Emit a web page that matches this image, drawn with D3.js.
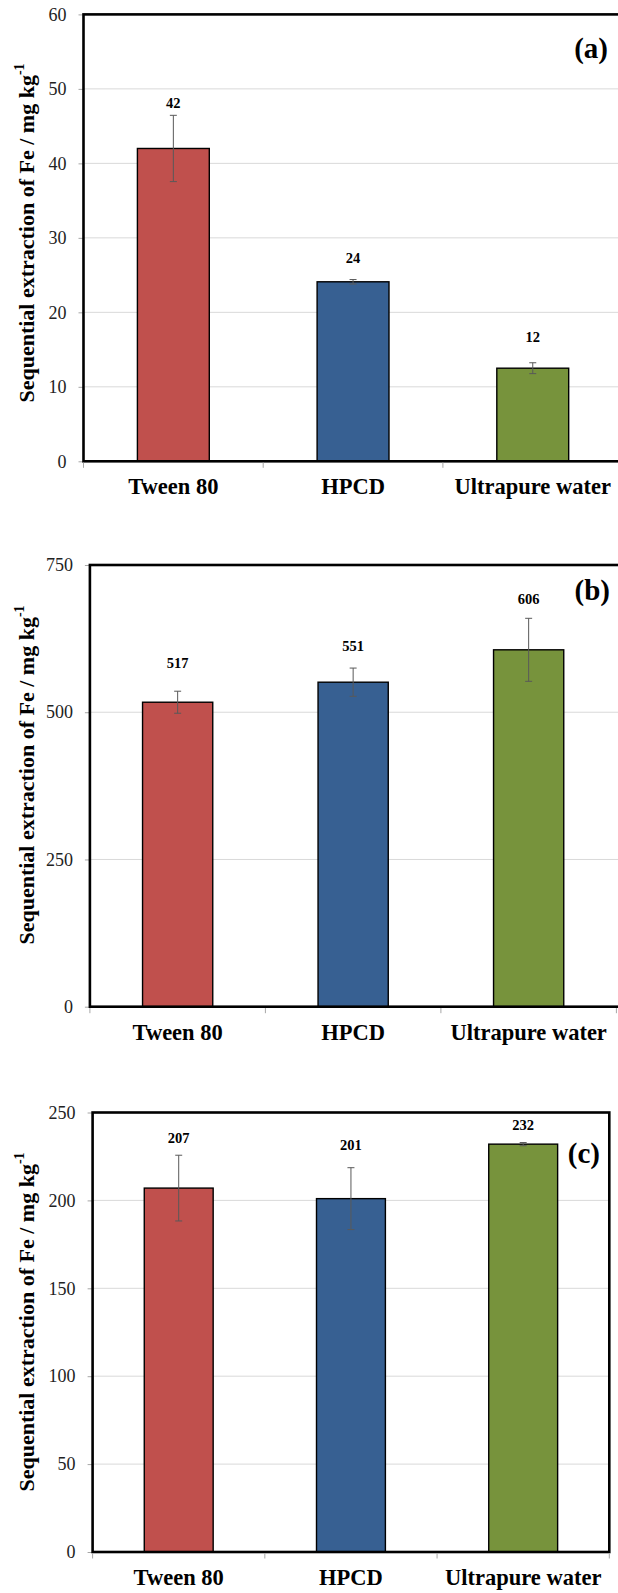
<!DOCTYPE html>
<html>
<head>
<meta charset="utf-8">
<script src="https://cdn.jsdelivr.net/npm/d3@7"></script>
<style>
  html, body { margin: 0; padding: 0; background: #fff; }
  svg { display: block; }
</style>
</head>
<body>
<svg id="chart" width="618" height="1593"></svg>
<script>
// ---------- data ----------
const categories = ["Tween 80", "HPCD", "Ultrapure water"];

const valuesA = [42, 24.1, 12.5];
const errorsA = [4.45, 0.3, 0.73];
const labelsA = ["42", "24", "12"];
const labelLevelsA = [48.1, 27.3, 16.65];
const ticksA = [0, 10, 20, 30, 40, 50, 60];

const valuesB = [517, 551, 606];
const errorsB = [18.7, 24, 53.5];
const labelsB = ["517", "551", "606"];
const labelLevelsB = [583, 612.5, 692.3];
const ticksB = [0, 250, 500, 750];

const valuesC = [207, 201, 232];
const errorsC = [18.7, 17.6, 0.9];
const labelsC = ["207", "201", "232"];
const labelLevelsC = [235.3, 231.5, 242.9];
const ticksC = [0, 50, 100, 150, 200, 250];

const panelTags = ["(a)", "(b)", "(c)"];
const yTitle = "Sequential extraction of Fe / mg kg";
const yTitleSup = "-1";

// ---------- styles ----------
const barColors = ["#C0504D", "#376092", "#77933C"];
const FONT = "Liberation Serif";

// ---------- layout ----------
const layouts = [
  { left: 83.5, right: 622.6, frameRight: 622.6, top: 14.4, bottom: 461.3, titleY: 233, tagX: 608, tagY: 48 },
  { left: 89.9, right: 616.4, frameRight: 620, top: 565, bottom: 1006.7, titleY: 775, tagX: 610, tagY: 590 },
  { left: 92.6, right: 609.3, frameRight: 609.3, top: 1112.5, bottom: 1552, titleY: 1322, tagX: 600, tagY: 1153 }
];

const panels = [
  { values: valuesA, errors: errorsA, labels: labelsA, levels: labelLevelsA, ticks: ticksA },
  { values: valuesB, errors: errorsB, labels: labelsB, levels: labelLevelsB, ticks: ticksB },
  { values: valuesC, errors: errorsC, labels: labelsC, levels: labelLevelsC, ticks: ticksC }
];

const svg = d3.select("#chart");

panels.forEach((p, i) => {
  const L = layouts[i];
  const g = svg.append("g");
  const ymax = d3.max(p.ticks);

  const x = d3.scaleBand()
    .domain(categories)
    .range([L.left, L.right])
    .paddingInner(0.6)
    .paddingOuter(0.3);
  const step = x.step();

  const y = d3.scaleLinear().domain([0, ymax]).range([L.bottom, L.top]);

  // gridlines
  g.append("g").selectAll("line")
    .data(p.ticks.filter(t => t > 0 && t < ymax))
    .join("line")
    .attr("x1", L.left).attr("x2", L.frameRight)
    .attr("y1", d => y(d)).attr("y2", d => y(d))
    .attr("stroke", "#d9d9d9").attr("stroke-width", 1);

  // y axis (ticks + labels) via d3.axisLeft
  const yAxis = d3.axisLeft(y)
    .tickValues(p.ticks)
    .tickSize(5)
    .tickPadding(12)
    .tickFormat(d3.format("d"));
  const ya = g.append("g")
    .attr("transform", `translate(${L.left},0)`)
    .call(yAxis);
  ya.select(".domain").remove();
  ya.selectAll(".tick line").attr("stroke", "#a6a6a6");
  ya.selectAll(".tick text")
    .style("font-family", FONT)
    .style("font-size", "18px")
    .attr("fill", "#222");

  // bars
  g.append("g").selectAll("rect")
    .data(categories)
    .join("rect")
    .attr("x", d => x(d))
    .attr("width", x.bandwidth())
    .attr("y", (d, j) => y(p.values[j]))
    .attr("height", (d, j) => y(0) - y(p.values[j]))
    .attr("fill", (d, j) => barColors[j])
    .attr("stroke", "#000")
    .attr("stroke-width", 1.4);

  // error bars
  const eg = g.append("g").attr("stroke", "#595959").attr("stroke-width", 1);
  categories.forEach((c, j) => {
    const cx = x(c) + x.bandwidth() / 2;
    const y1 = y(p.values[j] + p.errors[j]);
    const y2 = y(p.values[j] - p.errors[j]);
    eg.append("line").attr("x1", cx).attr("x2", cx).attr("y1", y1).attr("y2", y2);
    eg.append("line").attr("x1", cx - 3.5).attr("x2", cx + 3.5).attr("y1", y1).attr("y2", y1);
    eg.append("line").attr("x1", cx - 3.5).attr("x2", cx + 3.5).attr("y1", y2).attr("y2", y2);
  });

  // value labels
  g.append("g").selectAll("text")
    .data(categories)
    .join("text")
    .attr("x", d => x(d) + x.bandwidth() / 2)
    .attr("y", (d, j) => y(p.levels[j]))
    .attr("dy", "0.35em")
    .attr("text-anchor", "middle")
    .style("font-family", FONT)
    .style("font-size", "14.5px")
    .style("font-weight", "bold")
    .attr("fill", "#000")
    .text((d, j) => p.labels[j]);

  // frame
  g.append("rect")
    .attr("x", L.left).attr("y", L.top)
    .attr("width", L.frameRight - L.left)
    .attr("height", L.bottom - L.top)
    .attr("fill", "none")
    .attr("stroke", "#000")
    .attr("stroke-width", 2.6);

  // x tick marks at band boundaries
  const bounds = d3.range(categories.length + 1).map(k => L.left + k * step);
  g.append("g").selectAll("line")
    .data(bounds)
    .join("line")
    .attr("x1", d => d).attr("x2", d => d)
    .attr("y1", L.bottom + 1.3).attr("y2", L.bottom + 6.5)
    .attr("stroke", "#a6a6a6").attr("stroke-width", 1);

  // x category labels
  g.append("g").selectAll("text")
    .data(categories)
    .join("text")
    .attr("x", d => x(d) + x.bandwidth() / 2)
    .attr("y", L.bottom + 33)
    .attr("text-anchor", "middle")
    .style("font-family", FONT)
    .style("font-size", "22.5px")
    .style("font-weight", "bold")
    .attr("fill", "#000")
    .text(d => d);

  // y title
  const t = g.append("text")
    .attr("transform", `translate(34,${L.titleY}) rotate(-90)`)
    .attr("text-anchor", "middle")
    .style("font-family", FONT)
    .style("font-size", "22px")
    .style("font-weight", "bold")
    .attr("fill", "#000");
  t.append("tspan").text(yTitle);
  t.append("tspan").style("font-size", "14px").attr("dy", "-0.75em").text(yTitleSup);

  // panel tag
  g.append("text")
    .attr("x", L.tagX).attr("y", L.tagY)
    .attr("dy", "0.33em")
    .attr("text-anchor", "end")
    .style("font-family", FONT)
    .style("font-size", "29px")
    .style("font-weight", "bold")
    .attr("fill", "#000")
    .text(panelTags[i]);
});
</script>
</body>
</html>
